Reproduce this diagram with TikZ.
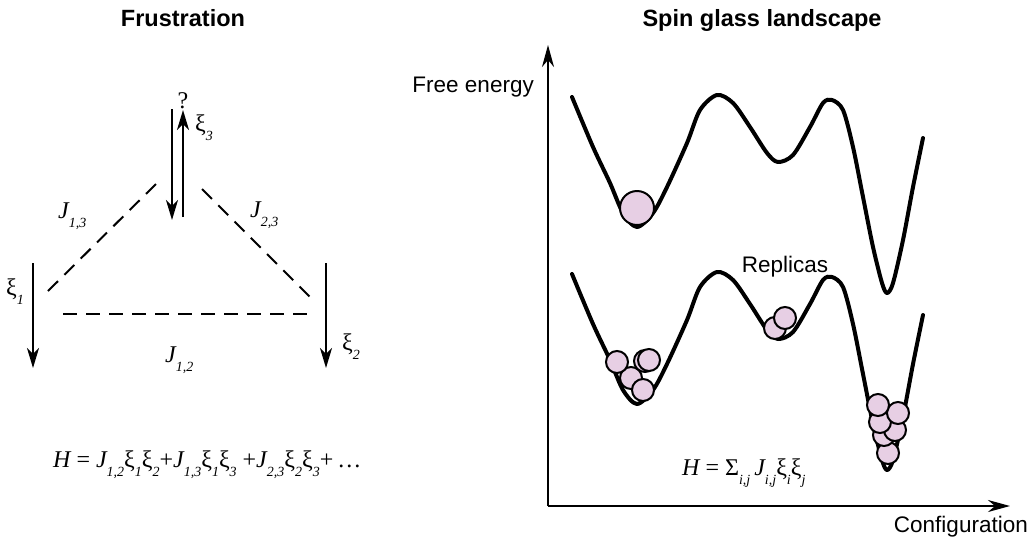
\documentclass[tikz,border=0pt]{standalone}
\usepackage{fontspec}
\setmainfont{Liberation Serif}
\setsansfont{Liberation Sans}
\usepackage{tikz}
\usetikzlibrary{arrows.meta}
\definecolor{ink}{HTML}{000000}
\definecolor{replica}{HTML}{E7CFE4}
\newcommand{\lo}[1]{\raisebox{-9pt}{\fontsize{14}{14}\selectfont\itshape #1}}
\tikzset{
  heading/.style={font=\sffamily\bfseries\fontsize{23.5}{28}\selectfont, inner sep=0pt},
  axlabel/.style={font=\sffamily\fontsize{22.5}{26}\selectfont, inner sep=0pt},
  sym/.style={font=\fontsize{24}{28}\selectfont, inner sep=0pt},
  spin/.style={-{Stealth[length=20pt, width=12pt, inset=6pt]}, line width=2pt, draw=ink},
  coupling/.style={line width=2pt, dash pattern=on 14pt off 9pt, draw=ink},
  axis/.style={-{Stealth[length=22pt, width=12pt, inset=7pt]}, line width=2pt, draw=ink},
  landscape/.style={line width=4pt, line join=round, line cap=round, draw=ink},
  ball/.style={circle, draw=ink, line width=2pt, fill=replica, inner sep=0pt, minimum size=22pt},
}

\begin{document}
\begin{tikzpicture}[x=1pt, y=-1pt]
  \useasboundingbox (0,0) rectangle (1035,539);

  % frustrated triangle
  \node[heading, anchor=base] (frust) at (183,26) {Frustration};
  \coordinate (s3d0) at (172,109);  \coordinate (s3d1) at (172,220);
  \coordinate (s3u0) at (183,217);  \coordinate (s3u1) at (183,110);
  \coordinate (s1a) at (33,263);    \coordinate (s1b) at (33,368);
  \coordinate (s2a) at (326,263);   \coordinate (s2b) at (326,368);
  \coordinate (c13a) at (48,291);   \coordinate (c13b) at (157,183);
  \coordinate (c23a) at (202,189);  \coordinate (c23b) at (311,298);
  \coordinate (c12a) at (63,314);   \coordinate (c12b) at (310,314);
  \draw[spin] (s3d0) -- (s3d1);
  \draw[spin] (s3u0) -- (s3u1);
  \draw[spin] (s1a) -- (s1b);
  \draw[spin] (s2a) -- (s2b);
  \draw[coupling] (c13a) -- (c13b);
  \draw[coupling] (c23a) -- (c23b);
  \draw[coupling] (c12a) -- (c12b);
  \node[sym, anchor=base] (qmark) at (183,108) {?};
  \node[sym, anchor=base west] (xi3) at (195,131) {ξ\lo{3}};
  \node[sym, anchor=base west] (xi1) at (6,295) {ξ\lo{1}};
  \node[sym, anchor=base west] (xi2) at (342,350) {ξ\lo{2}};
  \node[sym, anchor=base west] (j13) at (58,218) {\itshape J\lo{1,3}};
  \node[sym, anchor=base west] (j23) at (250,217) {\itshape J\lo{2,3}};
  \node[sym, anchor=base west] (j12) at (165,362) {\itshape J\lo{1,2}};
  \node[sym, anchor=base west] (hfrust) at (53,467)
    {{\itshape H} = {\itshape J}\lo{1,2}ξ\lo{1}ξ\lo{2}+{\itshape J}\lo{1,3}ξ\lo{1}ξ\lo{3} +{\itshape J}\lo{2,3}ξ\lo{2}ξ\lo{3}+\,\ldots};

  % landscape
  \node[heading, anchor=base] (glass) at (762,26) {Spin glass landscape};
  \coordinate (orig) at (548,506);
  \coordinate (ytip) at (548,45);
  \coordinate (xtip) at (1010,506);
  \draw[axis] (orig) -- (ytip);
  \draw[axis] (orig) -- (xtip);
  \node[axlabel, anchor=base east] (fe) at (534,92) {Free energy};
  \node[axlabel, anchor=base east] (conf) at (1028,532) {Configuration};

  \foreach \dy in {0,177}
    \draw[landscape, shift={(0,\dy)}] plot[smooth, tension=0.5] coordinates {
      (572,97) (593,147) (610,183) (623,213) (637,227) (653,213) (667,187)
      (687,143) (700,110) (717,95) (733,103) (750,127) (767,153) (778,162)
      (793,155) (810,127) (823,103) (832,100) (843,110) (853,147) (863,197)
      (873,247) (882,283) (887,293) (893,283) (903,240) (913,187) (923,138)};

  \node[ball, minimum size=34pt] (single) at (637,208) {};
  \node[axlabel, anchor=base] (repl) at (785,272) {Replicas};
  \foreach \bx/\by [count=\k] in {631/378, 617/362, 645/361, 649/360, 643/390,
      775/328, 785/318,
      888/453, 884/435, 895/430, 880/422, 898/413, 878/405}
    \node[ball] (rep\k) at (\bx,\by) {};
  \node[sym, anchor=base west] (hglass) at (682,475)
    {{\itshape H} = Σ\lo{i,j}\,{\itshape J}\lo{i,j}ξ\lo{i}ξ\lo{j}};
\end{tikzpicture}
\end{document}
